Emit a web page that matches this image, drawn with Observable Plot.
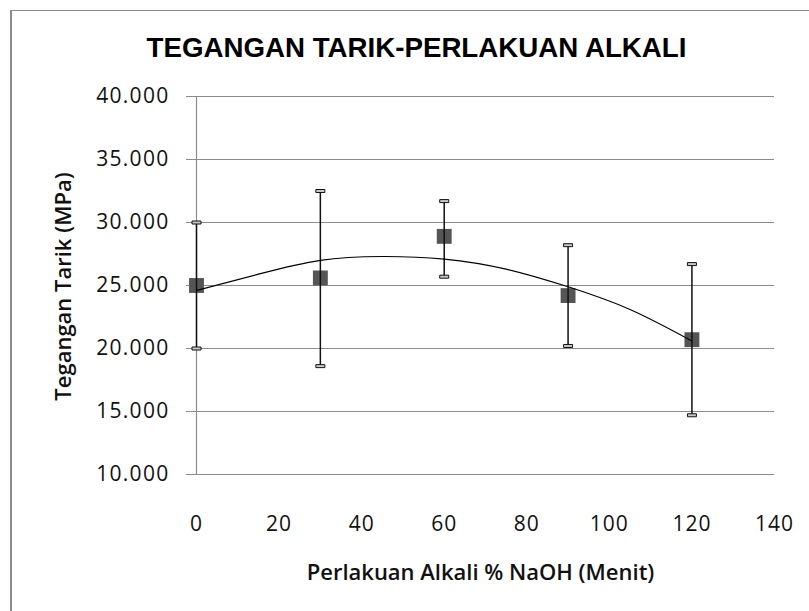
<!DOCTYPE html>
<html>
<head>
<meta charset="utf-8">
<script src="https://cdn.jsdelivr.net/npm/d3@7"></script>
<script src="https://cdn.jsdelivr.net/npm/@observablehq/plot@0.6"></script>
<style>
  html, body { margin: 0; padding: 0; background: #fff; overflow: hidden; }
  #wrap { position: relative; width: 809px; height: 611px; }
  #border { position: absolute; left: 10px; top: 10px; width: 900px; height: 700px;
            border-left: 2px solid #8a8a8a; border-top: 1px solid #8a8a8a; pointer-events: none; }
  svg { display: block; }
  g[aria-label="y-axis tick label"] text { letter-spacing: 1.3px; }
  g[aria-label="x-axis tick label"] text { letter-spacing: 1px; }
</style>
</head>
<body>
<div id="wrap"><div id="border"></div></div>
<script>
// Data
const minutes = [0, 30, 60, 90, 120];
const tensile = [25.0, 25.6, 28.9, 24.2, 20.7];
const errLow  = [20.0, 18.6, 25.7, 20.2, 14.7];
const errHigh = [30.0, 32.5, 31.7, 28.2, 26.7];

// Trendline points
const trendX = [0, 15, 30, 45, 60, 75, 90, 105, 120];
const trendY = [24.6, 25.9, 27.0, 27.3, 27.1, 26.3, 24.9, 23.1, 20.6];

const yTicks = [10, 15, 20, 25, 30, 35, 40];
const xTicks = [0, 20, 40, 60, 80, 100, 120, 140];

const titleText = "TEGANGAN TARIK-PERLAKUAN ALKALI";
const xLabel = "Perlakuan Alkali % NaOH (Menit)";
const yLabel = "Tegangan Tarik (MPa)";

const points = minutes.map((m, i) => ({x: m, y: tensile[i], lo: errLow[i], hi: errHigh[i]}));
const trend = trendX.map((x, i) => ({x, y: trendY[i]}));

const capSymbol = {
  draw(context) {
    context.moveTo(-4.5, -1.5);
    context.lineTo(4.5, -1.5);
    context.lineTo(4.5, 1.5);
    context.lineTo(-4.5, 1.5);
    context.closePath();
  }
};

const chart = Plot.plot({
  width: 809,
  height: 611,
  marginLeft: 196,
  marginRight: 35,
  marginTop: 96,
  marginBottom: 137,
  style: {fontFamily: "'Open Sans', sans-serif", fontSize: "21px", color: "#111", background: "transparent"},
  x: {domain: [0, 140]},
  y: {domain: [10, 40]},
  marks: [
    Plot.ruleY(yTicks, {stroke: "#8c8c8c", strokeWidth: 1.2}),
    Plot.ruleX([0], {stroke: "#8c8c8c", strokeWidth: 1.2}),
    Plot.axisY({ticks: yTicks, tickSize: 10, tickPadding: 17, tickFormat: d3.format(".3f"),
                stroke: "#8c8c8c", fill: "#111", label: null}),
    Plot.axisX({ticks: xTicks, tickSize: 0, tickPadding: 42, fill: "#111", label: null}),
    Plot.dot(points, {x: "x", y: "y", symbol: "square", r: 8.4, fill: "#555", stroke: "none"}),
    Plot.ruleX(points, {x: "x", y1: "lo", y2: "hi", stroke: "#111", strokeWidth: 1.5}),
    Plot.dot(points, {x: "x", y: "lo", symbol: capSymbol, r: 3, fill: "#c8c8c8", stroke: "#111", strokeWidth: 1}),
    Plot.dot(points, {x: "x", y: "hi", symbol: capSymbol, r: 3, fill: "#c8c8c8", stroke: "#111", strokeWidth: 1}),
    Plot.line(trend, {x: "x", y: "y", curve: "natural", stroke: "#000", strokeWidth: 1.2}),
    Plot.text([titleText], {frameAnchor: "top", text: d => d, dx: -69, dy: -48, lineAnchor: "middle",
                fontFamily: "'Liberation Sans', Arial, sans-serif", fontWeight: "bold", fontSize: 27.7, fill: "#000"}),
    Plot.text([xLabel], {frameAnchor: "bottom", text: d => d, dx: -5, dy: 98, lineAnchor: "middle",
                fontWeight: 600, fontSize: 22, fill: "#111"}),
    Plot.text([yLabel], {frameAnchor: "left", text: d => d, dx: -133, dy: 1, rotate: -90,
                textAnchor: "middle", lineAnchor: "middle",
                fontWeight: 600, fontSize: 22, fill: "#111"})
  ]
});
document.getElementById("wrap").prepend(chart);
</script>
</body>
</html>
